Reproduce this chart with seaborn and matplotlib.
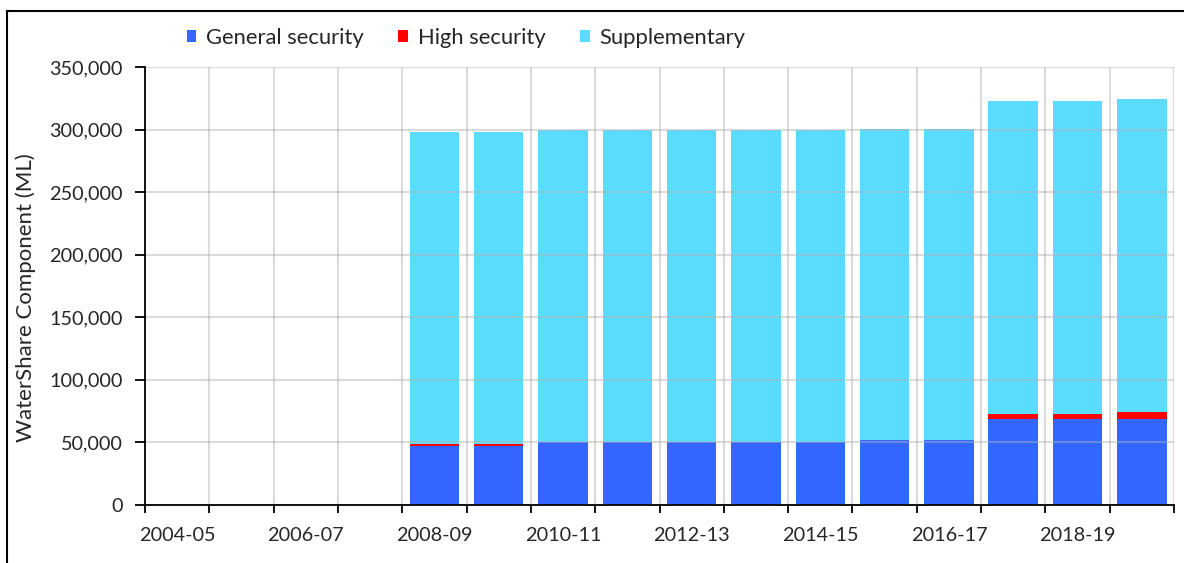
import matplotlib
matplotlib.use("Agg")
import matplotlib.pyplot as plt
from matplotlib.patches import Patch, Rectangle
from matplotlib.ticker import FixedLocator, FuncFormatter
import numpy as np
import pandas as pd
import seaborn as sns

# ---- data ----
years = ["2004-05", "2005-06", "2006-07", "2007-08", "2008-09", "2009-10",
         "2010-11", "2011-12", "2012-13", "2013-14", "2014-15", "2015-16",
         "2016-17", "2017-18", "2018-19", "2019-20"]
general_security = [0, 0, 0, 0, 47000, 47000, 50000, 50000, 50000, 50000,
                    50000, 51700, 51700, 69000, 69000, 69000]
high_security = [0, 0, 0, 0, 2000, 2000, 300, 300, 300, 300,
                 300, 300, 300, 3500, 3500, 5100]
supplementary = [0, 0, 0, 0, 248700, 248700, 249000, 249000, 249000, 249000,
                 249000, 248600, 248600, 250700, 250700, 250700]
series_names = ["General security", "High security", "Supplementary"]
series_colors = ["#3366FF", "#FF0000", "#5ADCFF"]
y_ticks = [0, 50000, 100000, 150000, 200000, 250000, 300000, 350000]
x_label_years = ["2004-05", "2006-07", "2008-09", "2010-11", "2012-13",
                 "2014-15", "2016-17", "2018-19"]
y_label = "WaterShare Component (ML)"

df = pd.DataFrame({"year": years, "gen": general_security,
                   "high": high_security, "supp": supplementary})
df["lvl1"] = df["gen"]
df["lvl2"] = df["gen"] + df["high"]
df["lvl3"] = df["gen"] + df["high"] + df["supp"]

sns.set_theme(style="white")
plt.rcParams["font.family"] = ["Lato", "DejaVu Sans"]
text_color = "#262626"

W, H = 1184, 563
fig = plt.figure(figsize=(W / 100, H / 100), dpi=100)
ax = fig.add_axes([145 / W, 1 - 505 / H, (1174 - 145) / W, (505 - 67) / H])

bar_w = 0.77
for col, color in zip(["lvl3", "lvl2", "lvl1"], series_colors[::-1]):
    sns.barplot(data=df, x="year", y=col, order=years, color=color,
                width=bar_w, linewidth=0, saturation=1, ax=ax)

ax.set_xlim(-0.5, len(years) - 0.5)
ax.set_ylim(0, 350000)

# y axis
ax.yaxis.set_major_locator(FixedLocator(y_ticks))
ax.yaxis.set_major_formatter(FuncFormatter(lambda v, p: f"{int(v):,}"))
ax.tick_params(axis="y", which="major", direction="out", length=7, width=1.3,
               color="black", labelsize=14.3, labelcolor=text_color, pad=9, left=True)

# x axis: labels at every second category, tick marks at every boundary
label_pos = [years.index(y) for y in x_label_years]
ax.set_xticks(label_pos)
ax.set_xticklabels(x_label_years)
ax.set_xticks(np.arange(-0.5, len(years), 1.0), minor=True)
ax.tick_params(axis="x", which="major", length=0, labelsize=14.3,
               labelcolor=text_color, pad=16)
ax.tick_params(axis="x", which="minor", direction="out", length=6, width=1.3,
               color="black", bottom=True)

ax.set_xlabel("")
ax.set_ylabel(y_label, fontsize=16, color=text_color)
ax.yaxis.set_label_coords((36 - 145) / 1029, (505 - 298) / 438)

ax.grid(False)
ax.set_axisbelow(False)
ax.yaxis.grid(True, which="major", color="#b0b0b0", alpha=0.45, lw=1.5)
ax.xaxis.grid(True, which="minor", color="#b0b0b0", alpha=0.45, lw=1.5)

for s in ["top", "right"]:
    ax.spines[s].set_visible(False)
for s in ["left", "bottom"]:
    ax.spines[s].set_color("black")
    ax.spines[s].set_linewidth(1.3)
    ax.spines[s].set_zorder(5)

handles = [Patch(facecolor=c, edgecolor="none", label=n)
           for n, c in zip(series_names, series_colors)]
fig.legend(handles=handles, loc="center", bbox_to_anchor=(466 / W, 1 - 38 / H),
           ncol=3, frameon=False, fontsize=15.8, handlelength=0.45,
           handleheight=0.45, handletextpad=0.45, columnspacing=1.55,
           labelcolor=text_color)

fig.add_artist(Rectangle((7 / W, -0.1), 1.2, (1 - 11 / H) + 0.1,
                         transform=fig.transFigure, fill=False,
                         edgecolor="black", lw=1.5))

fig.savefig("out.png", dpi=100)
